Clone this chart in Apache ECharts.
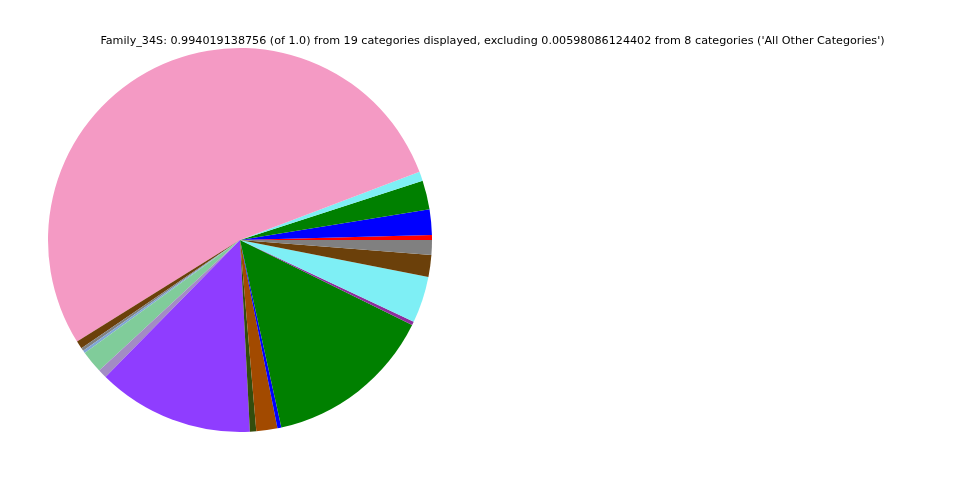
<!DOCTYPE html>
<html>
<head>
<meta charset="utf-8">
<script src="https://cdn.jsdelivr.net/npm/echarts@6/dist/echarts.min.js"></script>
<style>
html,body{margin:0;padding:0;background:#fff;}
#chart{width:960px;height:480px;}
</style>
</head>
<body>
<div id="chart"></div>
<script>
var categories = ["Cat_01","Cat_02","Cat_03","Cat_04","Cat_05","Cat_06","Cat_07","Cat_08","Cat_09","Cat_10","Cat_11","Cat_12","Cat_13","Cat_14","Cat_15","Cat_16","Cat_17","Cat_18","Cat_19"];
var values = [0.0041,0.0213,0.0243,0.0077,0.5277,0.0066,0.0025,0.0022,0.0188,0.0075,0.1309,0.0053,0.0176,0.0033,0.1415,0.0030,0.0390,0.0182,0.0124];
var colors = ["#ff0000","#0000ff","#008000","#7eeff5","#f49ac4","#6b400a","#808080","#80a6d6","#80cc9a","#a38cc4","#8f3dff","#334d0d","#a24a00","#0000ff","#008000","#8e2d9e","#7eeff5","#6b400a","#808080"];
var titleText = "Family_34S: 0.994019138756 (of 1.0) from 19 categories displayed, excluding 0.00598086124402 from 8 categories ('All Other Categories')";

var chart = echarts.init(document.getElementById('chart'), null, {renderer:'canvas'});
chart.setOption({
  animation: false,
  backgroundColor: '#ffffff',
  title: {
    text: titleText,
    left: 487.5, top: 31, textAlign: 'center',
    textStyle: {fontFamily: 'DejaVu Sans', fontSize: 11.16, fontWeight: 'normal', color: '#000'}
  },
  series: [{
    type: 'pie',
    center: [240, 240],
    radius: 192,
    startAngle: 0,
    clockwise: false,
    minAngle: 0,
    avoidLabelOverlap: false,
    label: {show: false},
    labelLine: {show: false},
    emphasis: {disabled: true},
    itemStyle: {borderWidth: 0},
    data: categories.map(function(c, i){ return {name: c, value: values[i], itemStyle: {color: colors[i]}}; })
  }]
});
</script>
</body>
</html>
